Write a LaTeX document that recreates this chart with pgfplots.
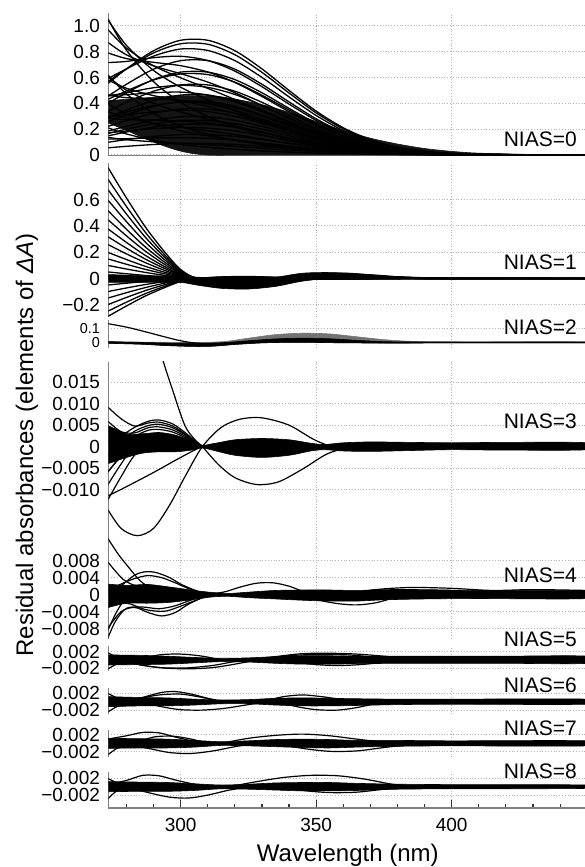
\documentclass[border=0pt]{standalone}
\usepackage{pgfplots}
\pgfplotsset{compat=1.18}
\usepackage{fontspec}
\setmainfont{Liberation Sans}
\tikzset{nias/.style={anchor=base east, font=\fontsize{10.5}{12}\selectfont, inner sep=0pt}}
\pgfplotsset{
 panel/.style={scale only axis, width=239.45pt, xmin=273.3, xmax=450, anchor=south west,
   axis x line*=bottom, axis y line*=left, axis line style={-},
   y axis line style={-, draw=black!50, line width=0.8pt},
   x axis line style={-, draw=none},
   xtick={300,350,400}, xticklabels={},
   x tick style={draw=none}, y tick style={draw=none},
   scaled y ticks=false, scaled x ticks=false,
   xmajorgrids, ymajorgrids,
   major grid style={draw=black!30, densely dotted, line width=0.5pt},
   yticklabel style={font=\fontsize{9.5}{10}\selectfont, inner sep=0pt, xshift=-4pt},
   clip mode=individual},
 ln/.style={black, line width=0.6pt, smooth, mark=none},
 lnt/.style={black, line width=0.65pt, smooth, mark=none},
 band/.style={fill=black, draw=black, line width=0.3pt, smooth, mark=none},
}
\begin{document}
\begin{tikzpicture}
\useasboundingbox (0,0) rectangle (292pt,433.5pt);
\node[rotate=90, font=\fontsize{12}{14}\selectfont] at (13.5pt,211pt) {Residual absorbances (elements of \textit{ΔA})};
% ---------------- NIAS=0
\begin{axis}[panel, at={(54.15pt,355.75pt)}, height=71.1pt, ymin=-0.004, ymax=1.098,
  ytick={0,0.2,0.4,0.6,0.8,1.0}, yticklabels={0,0.2,0.4,0.6,0.8,1.0},
  x axis line style={-, draw=black!50, line width=0.8pt}]
\addplot[band, fill=black!92, draw=black!92] coordinates {(273,0.42)(285,0.44)(300,0.46)(315,0.45)(330,0.39)(340,0.33)(350,0.26)(360,0.19)(370,0.13)(380,0.085)(390,0.05)(400,0.028)(410,0.014)(430,0.004)(450,0.001)(450,0)(400,0)(330,0)(310,0)(300,0.03)(290,0.1)(280,0.19)(273,0.25)};
\addplot[lnt] coordinates {(273,0.551)(280,0.667)(290,0.808)(300,0.889)(310,0.889)(320,0.808)(330,0.667)(340,0.500)(350,0.340)(360,0.211)(370,0.119)(380,0.060)(395,0.018)(410,0.005)(450,0)};
\addplot[lnt] coordinates {(273,0.566)(280,0.667)(290,0.791)(300,0.862)(310,0.858)(320,0.777)(330,0.640)(340,0.480)(350,0.326)(360,0.202)(370,0.114)(380,0.058)(395,0.018)(410,0.004)(450,0)};
\addplot[lnt] coordinates {(273,0.590)(280,0.667)(290,0.766)(300,0.821)(310,0.810)(320,0.731)(330,0.601)(340,0.450)(350,0.306)(360,0.189)(370,0.108)(380,0.055)(395,0.017)(410,0.004)(450,0)};
\addplot[lnt] coordinates {(273,0.453)(280,0.548)(290,0.665)(300,0.731)(310,0.731)(320,0.665)(330,0.548)(340,0.411)(350,0.280)(360,0.173)(370,0.098)(380,0.050)(395,0.015)(410,0.004)(450,0)};
\addplot[lnt] coordinates {(273,0.716)(280,0.725)(290,0.754)(300,0.765)(310,0.732)(320,0.650)(330,0.529)(340,0.394)(350,0.268)(360,0.166)(370,0.095)(380,0.049)(395,0.016)(410,0.004)(450,0)};
\addplot[lnt] coordinates {(273,0.429)(280,0.496)(290,0.581)(300,0.628)(310,0.623)(320,0.564)(330,0.463)(340,0.348)(350,0.236)(360,0.146)(370,0.083)(380,0.042)(395,0.013)(410,0.003)(450,0)};
\addplot[lnt] coordinates {(273,0.793)(280,0.747)(290,0.718)(300,0.692)(310,0.643)(320,0.562)(330,0.453)(340,0.335)(350,0.228)(360,0.141)(370,0.081)(380,0.042)(395,0.013)(410,0.004)(450,0)};
\addplot[lnt] coordinates {(273,0.456)(280,0.482)(290,0.521)(300,0.540)(310,0.524)(320,0.469)(330,0.384)(340,0.286)(350,0.194)(360,0.120)(370,0.068)(380,0.035)(395,0.011)(410,0.003)(450,0)};
\addplot[lnt] coordinates {(273,0.288)(280,0.348)(290,0.422)(300,0.464)(310,0.464)(320,0.422)(330,0.348)(340,0.261)(350,0.178)(360,0.110)(370,0.062)(380,0.031)(395,0.010)(410,0.002)(450,0)};
\addplot[lnt] coordinates {(273,0.875)(280,0.776)(290,0.691)(300,0.630)(310,0.565)(320,0.482)(330,0.383)(340,0.282)(350,0.191)(360,0.119)(370,0.068)(380,0.036)(395,0.012)(410,0.004)(450,0)};
\addplot[lnt] coordinates {(273,0.463)(280,0.467)(290,0.482)(300,0.487)(310,0.465)(320,0.412)(330,0.336)(340,0.250)(350,0.170)(360,0.106)(370,0.060)(380,0.031)(395,0.010)(410,0.002)(450,0)};
\addplot[lnt] coordinates {(273,0.295)(280,0.333)(290,0.383)(300,0.410)(310,0.405)(320,0.366)(330,0.300)(340,0.225)(350,0.153)(360,0.095)(370,0.053)(380,0.027)(395,0.008)(410,0.002)(450,0)};
\addplot[lnt] coordinates {(273,0.976)(280,0.828)(290,0.691)(300,0.598)(310,0.516)(320,0.430)(330,0.337)(340,0.247)(350,0.166)(360,0.104)(370,0.060)(380,0.032)(395,0.012)(410,0.004)(450,0)};
\addplot[lnt] coordinates {(273,0.464)(280,0.444)(290,0.434)(300,0.423)(310,0.396)(320,0.347)(330,0.280)(340,0.209)(350,0.141)(360,0.088)(370,0.050)(380,0.025)(395,0.008)(410,0.002)(450,0)};
\addplot[lnt] coordinates {(273,0.296)(280,0.311)(290,0.335)(300,0.347)(310,0.336)(320,0.300)(330,0.245)(340,0.183)(350,0.125)(360,0.077)(370,0.044)(380,0.022)(395,0.007)(410,0.002)(450,0)};
\addplot[lnt] coordinates {(273,0.584)(280,0.517)(290,0.460)(300,0.420)(310,0.376)(320,0.321)(330,0.256)(340,0.189)(350,0.127)(360,0.079)(370,0.046)(380,0.024)(395,0.008)(410,0.003)(450,0)};
\addplot[lnt] coordinates {(273,0.165)(280,0.200)(290,0.242)(300,0.267)(310,0.267)(320,0.242)(330,0.200)(340,0.150)(350,0.102)(360,0.063)(370,0.036)(380,0.018)(395,0.006)(410,0.001)(450,0)};
\addplot[lnt] coordinates {(273,1.053)(280,0.849)(290,0.655)(300,0.525)(310,0.427)(320,0.342)(330,0.261)(340,0.188)(350,0.127)(360,0.080)(370,0.047)(380,0.026)(395,0.010)(410,0.003)(450,0)};
\addplot[lnt] coordinates {(273,0.285)(280,0.274)(290,0.270)(300,0.263)(310,0.247)(320,0.218)(330,0.176)(340,0.130)(350,0.088)(360,0.054)(370,0.031)(380,0.016)(395,0.005)(410,0.001)(450,0)};
\addplot[lnt] coordinates {(273,0.610)(280,0.502)(290,0.401)(300,0.333)(310,0.278)(320,0.227)(330,0.175)(340,0.127)(350,0.086)(360,0.054)(370,0.032)(380,0.017)(395,0.006)(410,0.002)(450,0)};
\addplot[lnt] coordinates {(273,0.336)(280,0.289)(290,0.246)(300,0.215)(310,0.188)(320,0.159)(330,0.125)(340,0.092)(350,0.062)(360,0.039)(370,0.022)(380,0.011)(395,0.004)(410,0.001)(450,0)};
\addplot[lnt] coordinates {(273,1.061)(280,0.812)(290,0.568)(300,0.408)(310,0.299)(320,0.220)(330,0.158)(340,0.110)(350,0.073)(360,0.046)(370,0.028)(380,0.017)(395,0.007)(410,0.003)(450,0)};
\addplot[lnt] coordinates {(273,0.399)(280,0.317)(290,0.239)(300,0.187)(310,0.149)(320,0.118)(330,0.088)(340,0.063)(350,0.042)(360,0.027)(370,0.016)(380,0.008)(395,0.004)(410,0.001)(450,0)};
\addplot[lnt] coordinates {(273,0.624)(280,0.473)(290,0.323)(300,0.225)(310,0.160)(320,0.114)(330,0.080)(340,0.054)(350,0.036)(360,0.023)(370,0.014)(380,0.009)(395,0.004)(410,0.002)(450,0)};
\addplot[lnt] coordinates {(273,0.212)(280,0.163)(290,0.114)(300,0.082)(310,0.060)(320,0.044)(330,0.032)(340,0.022)(350,0.015)(360,0.010)(370,0.006)(380,0.003)(395,0.001)(410,0)(450,0)};
\addplot[lnt] coordinates {(273,0.337)(280,0.408)(290,0.494)(300,0.543)(310,0.543)(320,0.494)(330,0.408)(340,0.306)(350,0.208)(360,0.129)(370,0.073)(380,0.037)(395,0.011)(410,0.003)(450,0)};
\addplot[lnt] coordinates {(273,0.172)(280,0.185)(290,0.204)(300,0.213)(310,0.208)(320,0.187)(330,0.152)(340,0.114)(350,0.078)(360,0.048)(370,0.027)(380,0.013)(395,0.004)(410,0.001)(450,0)};
\addplot[lnt] coordinates {(273,0.123)(280,0.126)(290,0.132)(300,0.134)(310,0.129)(320,0.115)(330,0.093)(340,0.070)(350,0.047)(360,0.029)(370,0.016)(380,0.008)(395,0.002)(410,0.001)(450,0)};
\addplot[lnt] coordinates {(273,0.137)(280,0.118)(290,0.102)(300,0.090)(310,0.079)(320,0.067)(330,0.052)(340,0.038)(350,0.027)(360,0.016)(370,0.010)(380,0.005)(395,0.001)(410,0)(450,0)};
\addplot[lnt] coordinates {(273,0.098)(280,0.119)(290,0.144)(300,0.158)(310,0.158)(320,0.144)(330,0.119)(340,0.089)(350,0.060)(360,0.037)(370,0.021)(380,0.011)(395,0.003)(410,0.001)(450,0)};
\addplot[lnt] coordinates {(273,0.220)(280,0.267)(290,0.323)(300,0.356)(310,0.356)(320,0.323)(330,0.267)(340,0.200)(350,0.136)(360,0.084)(370,0.048)(380,0.024)(395,0.007)(410,0.002)(450,0)};
\addplot[lnt] coordinates {(273,0.257)(280,0.311)(290,0.377)(300,0.415)(310,0.415)(320,0.377)(330,0.311)(340,0.234)(350,0.159)(360,0.098)(370,0.055)(380,0.028)(395,0.009)(410,0.002)(450,0)};
\addplot[lnt] coordinates {(273,0.147)(280,0.178)(290,0.216)(300,0.237)(310,0.237)(320,0.216)(330,0.178)(340,0.133)(350,0.091)(360,0.056)(370,0.032)(380,0.016)(395,0.005)(410,0.001)(450,0)};
\addplot[lnt] coordinates {(273,0.184)(280,0.222)(290,0.269)(300,0.296)(310,0.296)(320,0.269)(330,0.222)(340,0.167)(350,0.113)(360,0.070)(370,0.040)(380,0.020)(395,0.006)(410,0.002)(450,0)};
\addplot[lnt] coordinates {(273,0.055)(280,0.067)(290,0.081)(300,0.089)(310,0.089)(320,0.081)(330,0.067)(340,0.050)(350,0.034)(360,0.021)(370,0.012)(380,0.006)(395,0.002)(410,0)(450,0)};
\addplot[lnt] coordinates {(273,0.398)(280,0.482)(290,0.584)(300,0.642)(310,0.642)(320,0.584)(330,0.482)(340,0.361)(350,0.246)(360,0.152)(370,0.086)(380,0.044)(395,0.013)(410,0.003)(450,0)};
\node[nias, yshift=4.4pt] at (axis cs:446.3,0) {NIAS=0};
\end{axis}
% ---------------- NIAS=1
\begin{axis}[panel, at={(54.15pt,274.85pt)}, height=76.9pt, ymin=-0.295, ymax=0.874,
  ytick={-0.2,0,0.2,0.4,0.6}, yticklabels={−0.2,0,0.2,0.4,0.6}]
\addplot[band] coordinates {(273,0.03)(290,0.02)(300,0.02)(306,0.01)(315,0.0)(325,0.0)(335,0.01)(345,0.04)(355,0.045)(365,0.035)(380,0.015)(400,0.005)(450,0.003)(450,-0.003)(400,-0.004)(380,-0.003)(365,-0.002)(355,0.0)(345,-0.02)(335,-0.06)(325,-0.08)(315,-0.075)(306,-0.05)(300,-0.03)(290,-0.03)(273,-0.03)};
\addplot[lnt] coordinates {(273,0.85)(280,0.612)(287,0.391)(294,0.204)(300,0.068)(306,0)(315,-0.034)(325,-0.043)(335,-0.026)(345,0)(355,0.017)(365,0.013)(380,0.004)(400,0)(450,0)};
\addplot[lnt] coordinates {(273,0.76)(280,0.547)(287,0.350)(294,0.182)(300,0.061)(306,0)(315,-0.030)(325,-0.038)(335,-0.023)(345,0)(355,0.015)(365,0.011)(380,0.004)(400,0)(450,0)};
\addplot[lnt] coordinates {(273,0.68)(280,0.490)(287,0.313)(294,0.163)(300,0.054)(306,0)(315,-0.027)(325,-0.034)(335,-0.020)(345,0)(355,0.014)(365,0.010)(380,0.003)(400,0)(450,0)};
\addplot[lnt] coordinates {(273,0.60)(280,0.432)(287,0.276)(294,0.144)(300,0.048)(306,0)(315,-0.024)(325,-0.030)(335,-0.018)(345,0)(355,0.012)(365,0.009)(380,0.003)(400,0)(450,0)};
\addplot[lnt] coordinates {(273,0.52)(280,0.374)(287,0.239)(294,0.125)(300,0.042)(306,0)(315,-0.021)(325,-0.026)(335,-0.016)(345,0)(355,0.010)(365,0.008)(380,0.003)(400,0)(450,0)};
\addplot[lnt] coordinates {(273,0.45)(280,0.324)(287,0.207)(294,0.108)(300,0.036)(306,0)(315,-0.018)(325,-0.023)(335,-0.014)(345,0)(355,0.009)(365,0.007)(380,0.002)(400,0)(450,0)};
\addplot[lnt] coordinates {(273,0.38)(280,0.274)(287,0.175)(294,0.091)(300,0.030)(306,0)(315,-0.015)(325,-0.019)(335,-0.011)(345,0)(355,0.008)(365,0.006)(380,0.002)(400,0)(450,0)};
\addplot[lnt] coordinates {(273,0.32)(280,0.230)(287,0.147)(294,0.077)(300,0.026)(306,0)(315,-0.013)(325,-0.016)(335,-0.010)(345,0)(355,0.006)(365,0.005)(380,0.002)(400,0)(450,0)};
\addplot[lnt] coordinates {(273,0.26)(280,0.187)(287,0.120)(294,0.062)(300,0.021)(306,0)(315,-0.010)(325,-0.013)(335,-0.008)(345,0)(355,0.005)(365,0.004)(380,0.001)(400,0)(450,0)};
\addplot[lnt] coordinates {(273,0.20)(280,0.144)(287,0.092)(294,0.048)(300,0.016)(306,0)(315,-0.008)(325,-0.010)(335,-0.006)(345,0)(355,0.004)(365,0.003)(380,0.001)(400,0)(450,0)};
\addplot[lnt] coordinates {(273,0.15)(280,0.108)(287,0.069)(294,0.036)(300,0.012)(306,0)(315,-0.006)(325,-0.008)(335,-0.005)(345,0)(355,0.003)(365,0.002)(380,0.001)(400,0)(450,0)};
\addplot[lnt] coordinates {(273,0.10)(280,0.072)(287,0.046)(294,0.024)(300,0.008)(306,0)(315,-0.004)(325,-0.005)(335,-0.003)(345,0)(355,0.002)(365,0.002)(380,0)(400,0)(450,0)};
\addplot[lnt] coordinates {(273,0.05)(280,0.036)(287,0.023)(294,0.012)(300,0.004)(306,0)(315,-0.002)(325,-0.003)(335,-0.002)(345,0)(355,0.001)(365,0.001)(380,0)(400,0)(450,0)};
\addplot[lnt] coordinates {(273,-0.05)(280,-0.036)(287,-0.023)(294,-0.012)(300,-0.004)(306,0)(315,0.002)(325,0.003)(335,0.002)(345,0)(355,-0.001)(365,-0.001)(380,0)(400,0)(450,0)};
\addplot[lnt] coordinates {(273,-0.10)(280,-0.072)(287,-0.046)(294,-0.024)(300,-0.008)(306,0)(315,0.004)(325,0.005)(335,0.003)(345,0)(355,-0.002)(365,-0.002)(380,0)(400,0)(450,0)};
\addplot[lnt] coordinates {(273,-0.15)(280,-0.108)(287,-0.069)(294,-0.036)(300,-0.012)(306,0)(315,0.006)(325,0.008)(335,0.005)(345,0)(355,-0.003)(365,-0.002)(380,-0.001)(400,0)(450,0)};
\addplot[lnt] coordinates {(273,-0.20)(280,-0.144)(287,-0.092)(294,-0.048)(300,-0.016)(306,0)(315,0.008)(325,0.010)(335,0.006)(345,0)(355,-0.004)(365,-0.003)(380,-0.001)(400,0)(450,0)};
\addplot[lnt] coordinates {(273,-0.25)(280,-0.180)(287,-0.115)(294,-0.060)(300,-0.020)(306,0)(315,0.010)(325,0.013)(335,0.008)(345,0)(355,-0.005)(365,-0.004)(380,-0.001)(400,0)(450,0)};
\addplot[lnt] coordinates {(273,-0.29)(280,-0.209)(287,-0.133)(294,-0.070)(300,-0.023)(306,0)(315,0.012)(325,0.015)(335,0.009)(345,0)(355,-0.006)(365,-0.004)(380,-0.001)(400,0)(450,0)};
\addplot[lnt] coordinates {(273,0)(287,0.0)(300,-0.01)(306,-0.03)(315,-0.06)(325,-0.07)(335,-0.05)(345,-0.01)(355,0.02)(365,0.02)(380,0.01)(400,0)(450,0)};
\addplot[lnt] coordinates {(273,0.02)(290,0.01)(306,-0.02)(320,-0.045)(335,-0.03)(350,0.03)(360,0.04)(372,0.025)(390,0.005)(450,0)};
\node[nias, yshift=4.25pt] at (axis cs:446.3,0) {NIAS=1};
\end{axis}
% ---------------- NIAS=2
\begin{axis}[panel, at={(54.15pt,259.5pt)}, height=13.77pt, ymin=-0.039, ymax=0.155,
  ytick={0,0.1}, yticklabels={0,0.1},
  yticklabel style={font=\fontsize{7.2}{8}\selectfont}]
\addplot[band, fill=black!55, draw=black!55] coordinates {(273,0.006)(300,0.0)(315,0.005)(325,0.03)(335,0.055)(345,0.065)(355,0.06)(365,0.04)(375,0.02)(385,0.008)(400,0.003)(450,0.003)(450,-0.003)(400,-0.003)(380,-0.004)(362,-0.003)(350,0.0)(340,0.001)(330,-0.003)(320,-0.014)(312,-0.026)(305,-0.028)(295,-0.022)(285,-0.012)(273,-0.006)};
\addplot[band] coordinates {(273,0.006)(285,0.0)(295,-0.004)(305,-0.006)(315,-0.002)(325,0.012)(335,0.025)(345,0.03)(355,0.026)(365,0.015)(375,0.006)(390,0.003)(450,0.003)(450,-0.003)(400,-0.003)(380,-0.004)(362,-0.003)(350,0.0)(340,0.001)(330,-0.003)(320,-0.014)(312,-0.026)(305,-0.028)(295,-0.022)(285,-0.012)(273,-0.006)};
\addplot[ln] coordinates {(273,0.133)(280,0.108)(287,0.075)(294,0.04)(300,0.012)(306,-0.005)(315,-0.01)(325,0)(340,0.01)(360,0.005)(380,0)(450,0)};
\node[nias, yshift=3.75pt] at (axis cs:446.3,0) {NIAS=2};
\end{axis}
% ---------------- NIAS=3
\begin{axis}[panel, at={(54.15pt,164.15pt)}, height=88.37pt, ymin=-0.0214, ymax=0.0197,
  ytick={-0.010,-0.005,0,0.005,0.010,0.015}, yticklabels={−0.010,−0.005,0,0.005,0.010,0.015}]
\addplot[band] coordinates {(273,0.005)(280,0.003)(286,0.003)(292,0.0033)(298,0.0027)(304,0.0013)(308,0.0003)(313,0.0008)(320,0.0016)(330,0.0019)(340,0.0016)(348,0.0008)(353,0.0005)(360,0.0009)(370,0.0011)(385,0.001)(400,0.0009)(420,0.001)(450,0.0009)(450,-0.0007)(420,-0.0008)(400,-0.0007)(385,-0.0009)(370,-0.0011)(360,-0.001)(353,-0.0007)(348,-0.001)(340,-0.002)(330,-0.0025)(320,-0.002)(313,-0.001)(308,-0.0003)(304,-0.0008)(298,-0.0012)(292,-0.0012)(286,-0.0015)(280,-0.0025)(273,-0.004)};
\addplot[ln] coordinates {(273,0.001)(278,0.0025)(283,0.0045)(288,0.0059)(292,0.0062)(297,0.0053)(302,0.0031)(306,0.0009)(309,0)(315,-0.0006)(325,-0.0009)(335,-0.0006)(345,-0.0003)(355,0)(450,0)};
\addplot[ln] coordinates {(273,0.0093)(278,0.0065)(283,0.0048)(288,0.0055)(292,0.0057)(297,0.0048)(302,0.0028)(306,0.0008)(309,0)(315,-0.0006)(325,-0.0008)(335,-0.0005)(345,-0.0003)(355,0)(450,0)};
\addplot[ln] coordinates {(273,-0.002)(278,0.0012)(283,0.0036)(288,0.0049)(292,0.0052)(297,0.0044)(302,0.0026)(306,0.0008)(309,0)(315,-0.0005)(325,-0.0008)(335,-0.0005)(345,-0.0002)(355,0)(450,0)};
\addplot[ln] coordinates {(273,0.006)(278,0.0035)(283,0.0032)(288,0.0044)(292,0.0046)(297,0.0039)(302,0.0023)(306,0.0007)(309,0)(315,-0.0005)(325,-0.0007)(335,-0.0005)(345,-0.0002)(355,0)(450,0)};
\addplot[ln] coordinates {(273,-0.006)(278,-0.002)(283,0.0022)(288,0.0038)(292,0.004)(297,0.0034)(302,0.002)(306,0.0006)(309,0)(315,-0.0004)(325,-0.0006)(335,-0.0004)(345,-0.0002)(355,0)(450,0)};
\addplot[ln] coordinates {(273,-0.009)(277,-0.005)(281,-0.0015)(286,0.0005)(292,0.001)(300,0.0005)(308,0)(450,0)};
\addplot[ln] coordinates {(273,-0.0125)(278,-0.007)(283,-0.002)(289,0.0008)(296,0.001)(304,0.0003)(310,0)(450,0)};
\addplot[ln] coordinates {(273,-0.006)(277,-0.003)(282,-0.0005)(288,0.001)(296,0.0008)(306,0.0002)(320,0)(450,0)};
\addplot[ln] coordinates {(287,0.036)(290,0.028)(293.5,0.020)(297,0.0132)(301.5,0.005)(305,0.0018)(308,0)(314,-0.0042)(320,-0.0072)(328,-0.0088)(336,-0.0082)(345,-0.0052)(354,-0.0017)(362,-0.0003)(375,0)(450,0)};
\addplot[ln] coordinates {(273,-0.0145)(278,-0.019)(284,-0.0207)(290,-0.019)(296,-0.0135)(302,-0.0065)(308,0)(315,0.0045)(322,0.0064)(330,0.0067)(340,0.005)(350,0.0014)(360,-0.0006)(375,0)(450,0)};
\addplot[ln] coordinates {(273,-0.0115)(280,-0.0093)(290,-0.006)(300,-0.0025)(308,0)(315,0.0008)(325,0.0005)(340,0)(450,0)};
\node[nias, yshift=9.3pt] at (axis cs:446.3,0) {NIAS=3};
\end{axis}
% ---------------- NIAS=4
\begin{axis}[panel, at={(54.15pt,114.05pt)}, height=50.15pt, ymin=-0.0104, ymax=0.0132,
  ytick={-0.008,-0.004,0,0.004,0.008}, yticklabels={−0.008,−0.004,0,0.004,0.008}]
\addplot[band] coordinates {(273,0.0025)(280,0.0022)(288,0.0024)(296,0.0018)(305,0.001)(312,0.0005)(318,0.0003)(325,0.0006)(335,0.001)(345,0.0011)(355,0.0011)(365,0.001)(375,0.0012)(390,0.0012)(410,0.001)(450,0.0009)(450,-0.0009)(410,-0.0009)(390,-0.001)(375,-0.0012)(365,-0.0015)(355,-0.0015)(345,-0.0013)(335,-0.001)(325,-0.0007)(318,-0.0004)(312,-0.0005)(305,-0.0011)(296,-0.0018)(288,-0.002)(280,-0.002)(273,-0.003)};
\addplot[ln] coordinates {(273,0.0134)(277,0.0095)(281,0.0063)(285,0.0033)(290,0.0012)(297,0.0002)(305,0)(450,0)};
\addplot[ln] coordinates {(273,0.0078)(276,0.0055)(279,0.0035)(283,0.0022)(288,0.0018)(295,0.001)(305,0)(450,0)};
\addplot[ln] coordinates {(273,0.0)(278,0.0021)(283,0.0046)(287,0.0054)(291,0.0052)(296,0.004)(300,0.0025)(306,0.0009)(313,0)(450,0)};
\addplot[ln] coordinates {(273,0.001)(278,0.0025)(283,0.0038)(288,0.0045)(293,0.004)(298,0.0028)(304,0.0012)(312,0)(450,0)};
\addplot[ln] coordinates {(273,-0.008)(278,-0.004)(283,-0.003)(288,-0.0042)(293,-0.005)(298,-0.0042)(303,-0.0022)(310,-0.0003)(318,0)(450,0)};
\addplot[ln] coordinates {(273,-0.003)(280,-0.002)(287,-0.0035)(294,-0.0039)(300,-0.0027)(307,-0.001)(314,0)(450,0)};
\addplot[ln] coordinates {(273,-0.0104)(276,-0.0062)(280,-0.0032)(286,-0.0029)(292,-0.0033)(298,-0.0026)(305,-0.001)(312,0)(450,0)};
\addplot[ln] coordinates {(273,-0.0086)(276,-0.0045)(279,-0.0015)(283,0)(290,0.0005)(300,0)(450,0)};
\addplot[ln] coordinates {(305,0)(315,0.0005)(322,0.0018)(328,0.0027)(334,0.0028)(340,0.002)(346,0.0006)(352,0)(450,0)};
\addplot[ln] coordinates {(340,0)(350,-0.0012)(358,-0.0021)(365,-0.0024)(372,-0.0019)(380,-0.0006)(390,0)(450,0)};
\addplot[ln] coordinates {(360,0)(372,0.0012)(385,0.0017)(400,0.0015)(415,0.001)(430,0.0012)(450,0.001)};
\node[nias, yshift=5.85pt] at (axis cs:446.3,0) {NIAS=4};
\end{axis}
% ---------------- NIAS=5
\begin{axis}[panel, at={(54.15pt,97.85pt)}, height=12.6pt, ymin=-0.0027, ymax=0.0033,
  ytick={-0.002,0.002}, yticklabels={−0.002,0.002}]
\addplot[band] coordinates {(273,0.0012)(285,0.0011)(295,0.0009)(305,0.0006)(315,0.0004)(325,0.0005)(335,0.0008)(345,0.001)(355,0.001)(365,0.0009)(380,0.0009)(400,0.0009)(420,0.0009)(450,0.0009)(450,-0.0008)(420,-0.0008)(400,-0.0008)(380,-0.0008)(365,-0.0009)(355,-0.001)(345,-0.001)(335,-0.0008)(325,-0.0005)(315,-0.0004)(305,-0.0007)(295,-0.001)(285,-0.0011)(273,-0.0012)};
\addplot[ln] coordinates {(280,-0.0005)(288,-0.0015)(296,-0.002)(304,-0.0021)(312,-0.0018)(320,-0.001)(328,0)};
\addplot[ln] coordinates {(282,-0.0008)(292,-0.0018)(302,-0.0019)(312,-0.0013)(320,-0.0004)(330,0)};
\addplot[ln] coordinates {(325,0)(335,0.0008)(345,0.0015)(355,0.0016)(365,0.0014)(375,0.0009)(385,0.0003)(395,0)};
\addplot[ln] coordinates {(330,0)(340,0.001)(350,0.0013)(362,0.0012)(372,0.0006)(380,0)};
\addplot[ln] coordinates {(340,0)(350,-0.0011)(360,-0.0013)(370,-0.0009)(380,0)};
\addplot[ln] coordinates {(273,-0.0022)(277,-0.0008)(282,0)};
\addplot[ln] coordinates {(273,0.0018)(276,0.0008)(281,0)};
\addplot[ln] coordinates {(285,0)(292,0.0012)(300,0.0014)(308,0.0009)(315,0)};
\node[nias, yshift=6.5pt] at (axis cs:446.3,0) {NIAS=5};
\end{axis}
% ---------------- NIAS=6
\begin{axis}[panel, at={(54.15pt,76.35pt)}, height=13.25pt, ymin=-0.003, ymax=0.0033,
  ytick={-0.002,0.002}, yticklabels={−0.002,0.002}]
\addplot[band] coordinates {(273,0.0012)(285,0.001)(295,0.0009)(305,0.0006)(315,0.0004)(325,0.0005)(335,0.0008)(345,0.0009)(355,0.0008)(365,0.0007)(380,0.0006)(400,0.0006)(450,0.0006)(450,-0.0006)(400,-0.0006)(380,-0.0007)(365,-0.0009)(355,-0.001)(345,-0.001)(335,-0.0008)(325,-0.0005)(315,-0.0005)(305,-0.0008)(295,-0.001)(285,-0.001)(273,-0.0012)};
\addplot[ln] coordinates {(280,0)(287,0.0012)(293,0.0022)(298,0.0024)(304,0.0018)(310,0.0008)(316,0)};
\addplot[ln] coordinates {(278,0)(285,0.0008)(292,0.0016)(300,0.0018)(308,0.001)(315,0)};
\addplot[ln] coordinates {(285,0)(293,-0.0012)(300,-0.0019)(308,-0.002)(316,-0.0016)(324,-0.0008)(332,0)};
\addplot[ln] coordinates {(330,0)(338,0.0012)(345,0.0016)(352,0.0012)(360,0.0005)(368,0)};
\addplot[ln] coordinates {(335,0)(343,-0.0012)(350,-0.0019)(358,-0.002)(365,-0.0014)(372,-0.0005)(380,0)};
\addplot[ln] coordinates {(273,-0.0025)(277,-0.001)(282,0)};
\addplot[ln] coordinates {(273,0.002)(277,0.0008)(282,0)};
\node[nias, yshift=4.35pt] at (axis cs:446.3,0) {NIAS=6};
\end{axis}
% ---------------- NIAS=7
\begin{axis}[panel, at={(54.15pt,54.9pt)}, height=13.65pt, ymin=-0.0033, ymax=0.0032,
  ytick={-0.002,0.002}, yticklabels={−0.002,0.002}]
\addplot[band] coordinates {(273,0.0012)(285,0.0011)(295,0.001)(305,0.0007)(315,0.0004)(325,0.0006)(335,0.0009)(345,0.001)(355,0.0009)(365,0.0007)(380,0.0007)(400,0.0006)(450,0.0006)(450,-0.0006)(400,-0.0006)(380,-0.0007)(365,-0.0009)(355,-0.0011)(345,-0.001)(335,-0.0008)(325,-0.0006)(315,-0.0005)(305,-0.0009)(295,-0.0011)(285,-0.0011)(273,-0.0012)};
\addplot[ln] coordinates {(273,0.001)(280,0.0018)(286,0.0026)(292,0.0025)(298,0.0015)(305,0.0005)(312,0)};
\addplot[ln] coordinates {(278,0)(288,-0.0012)(296,-0.0022)(304,-0.0024)(312,-0.0018)(320,-0.0008)(328,0)};
\addplot[ln] coordinates {(315,0)(325,0.0012)(335,0.0019)(345,0.0022)(355,0.0018)(365,0.001)(375,0.0003)(385,0)};
\addplot[ln] coordinates {(335,0)(345,-0.0012)(355,-0.0019)(365,-0.0018)(375,-0.001)(385,-0.0003)(395,0)};
\addplot[ln] coordinates {(273,-0.0028)(277,-0.001)(282,0)};
\addplot[ln] coordinates {(283,0)(290,0.0015)(297,0.0017)(304,0.001)(310,0)};
\node[nias, yshift=4.15pt] at (axis cs:446.3,0) {NIAS=7};
\end{axis}
% ---------------- NIAS=8
\begin{axis}[panel, at={(54.15pt,29.45pt)}, height=18.05pt, ymin=-0.0051, ymax=0.0035,
  ytick={-0.002,0.002}, yticklabels={−0.002,0.002},
  x axis line style={-, draw=black!50, line width=0.8pt},
  xticklabels={300,350,400},
  minor xtick={280,290,310,320,330,340,360,370,380,390,410,420,430,440},
  x tick style={draw=black!80, line width=0.6pt},
  tick align=inside, major tick length=4pt, minor tick length=2pt,
  xticklabel style={font=\fontsize{9.5}{10}\selectfont, inner sep=0pt, yshift=-5pt},
  xlabel={Wavelength (nm)},
  xlabel style={font=\fontsize{12}{14}\selectfont, at={(axis description cs:0.5,0)}, anchor=center, yshift=-23.5pt}]
\addplot[band] coordinates {(273,0.0012)(285,0.0011)(295,0.001)(305,0.0007)(315,0.0004)(325,0.0006)(335,0.0009)(345,0.001)(355,0.001)(365,0.0008)(380,0.0006)(400,0.0005)(450,0.0004)(450,-0.0004)(400,-0.0005)(380,-0.0006)(365,-0.0009)(355,-0.001)(345,-0.001)(335,-0.0008)(325,-0.0006)(315,-0.0005)(305,-0.0009)(295,-0.0011)(285,-0.0011)(273,-0.0012)};
\addplot[ln] coordinates {(273,0.0005)(280,0.0015)(286,0.0027)(292,0.0026)(298,0.0016)(305,0.0006)(312,0)};
\addplot[ln] coordinates {(280,0)(288,-0.0014)(296,-0.0025)(303,-0.0027)(310,-0.002)(318,-0.0008)(326,0)};
\addplot[ln] coordinates {(318,0)(328,0.0012)(338,0.0022)(348,0.0027)(358,0.0026)(368,0.0018)(378,0.0006)(388,0)};
\addplot[ln] coordinates {(335,0)(345,-0.0009)(355,-0.0014)(365,-0.0013)(375,-0.0006)(385,0)};
\addplot[ln] coordinates {(273,-0.003)(276,-0.0012)(280,0)};
\addplot[ln] coordinates {(273,0.002)(277,0.0008)(281,0)};
\node[nias, yshift=4.35pt] at (axis cs:446.3,0) {NIAS=8};
\end{axis}
\end{tikzpicture}
\end{document}
